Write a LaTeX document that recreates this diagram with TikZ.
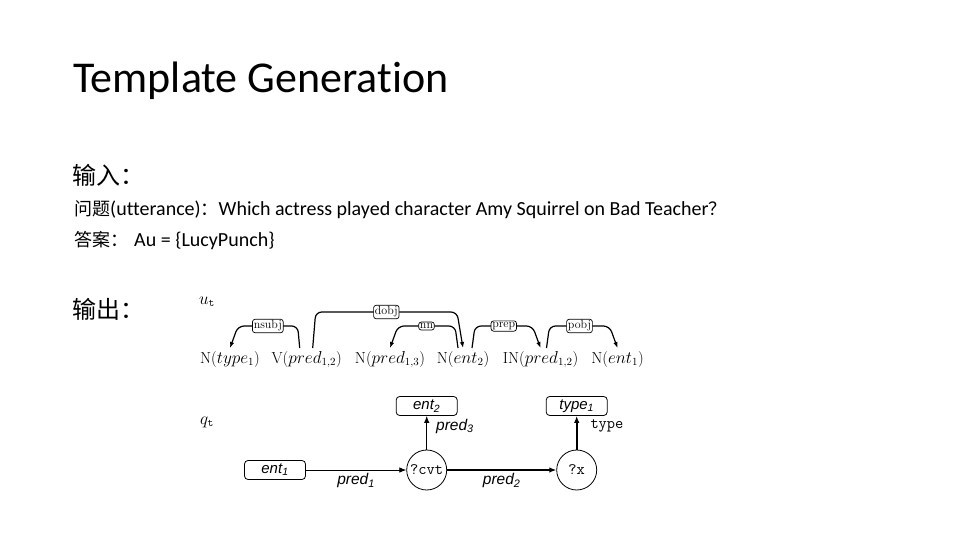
\documentclass[tikz,border=0pt]{standalone}
\usepackage{fontspec}
\usepackage{amsmath}
\usetikzlibrary{arrows.meta}
\newfontfamily\slidefont{Carlito}[Ligatures=NoCommon]
\newfontfamily\cjk{Noto Sans CJK SC}
\newfontfamily\arialfont{Liberation Sans}
\newcommand\zh[1]{{\cjk\fontsize{18}{22}\selectfont #1}}

\tikzset{
  token/.style={inner sep=0pt, outer sep=3pt, anchor=base, font=\fontsize{16}{18}\selectfont},
  deparc/.style={-{Latex[length=6pt,width=4.5pt]}, line width=1.2pt, rounded corners=6pt},
  deplabel/.style={draw, line width=0.7pt, rounded corners=2.5pt, fill=white, inner sep=1.3pt, font=\fontsize{12}{13}\selectfont},
  entbox/.style={draw, line width=0.8pt, rounded corners=3.5pt, minimum width=61pt, minimum height=19pt, inner sep=1pt, font=\arialfont\itshape\fontsize{15}{16}\selectfont},
  varnode/.style={draw, line width=0.8pt, circle, minimum size=40pt, inner sep=0pt, font=\ttfamily\fontsize{16}{18}\selectfont},
  qedge/.style={-{Latex[length=7pt,width=5.5pt]}, line width=1pt},
  qlabel/.style={font=\arialfont\itshape\fontsize{15.5}{17}\selectfont, inner sep=1pt},
  slidetext/.style={anchor=base west, inner sep=0pt},
}

\begin{document}
\begin{tikzpicture}[x=1pt,y=-1pt]
  \useasboundingbox (0,0) rectangle (960,540);
  % slide text
  \node[slidetext, font=\slidefont\fontsize{44}{52}\selectfont] (title) at (73,93) {Template Generation};
  \node[slidetext, font=\cjk\fontsize{24}{28}\selectfont] (inlabel) at (72,184) {输入：};
  \node[slidetext, font=\slidefont\fontsize{20}{24}\selectfont] (question) at (74,215)
    {\zh{问题}(utterance)\zh{：}Which actress played character Amy Squirrel on Bad Teacher\zh{？}};
  \node[slidetext, font=\slidefont\fontsize{20}{24}\selectfont] (answer) at (74,246)
    {\zh{答案：}\hspace{6pt}Au = \{LucyPunch\}};
  \node[slidetext, font=\cjk\fontsize{24}{28}\selectfont] (outlabel) at (72,318) {输出：};

  % dependency template u_t
  \node[font=\fontsize{16}{18}\selectfont] (ulabel) at (207,302) {$u_{\mathtt{t}}$};
  \node[token] (ntype) at (230,363) {N($type_1$)};
  \node[token] (vpred) at (306.7,363) {V($pred_{1,2}$)};
  \node[token] (npred) at (390,363) {N($pred_{1,3}$)};
  \node[token] (nent2) at (463,363) {N($ent_2$)};
  \node[token] (inpred) at (540.5,363) {IN($pred_{1,2}$)};
  \node[token] (nent1) at (617.5,363) {N($ent_1$)};

  \draw[deparc] ([xshift=-7pt]vpred.north) -- ([xshift=-9pt,yshift=22pt]vpred.north)
    -- node[deplabel] {nsubj} ([xshift=8pt,yshift=22pt]ntype.north) -- (ntype.north);
  \draw[deparc] ([xshift=6pt]vpred.north) -- ([xshift=9pt,yshift=36pt]vpred.north)
    -- node[deplabel] {dobj} ([xshift=-6pt,yshift=36pt]nent2.north) -- (nent2.north);
  \draw[deparc] ([xshift=-5pt]nent2.north) -- ([xshift=-8pt,yshift=22pt]nent2.north)
    -- node[deplabel] {nn} ([xshift=8pt,yshift=22pt]npred.north) -- (npred.north);
  \draw[deparc] ([xshift=9pt]nent2.north) -- ([xshift=12pt,yshift=22pt]nent2.north)
    -- node[deplabel] {prep} ([xshift=-8pt,yshift=22pt]inpred.north) -- (inpred.north);
  \draw[deparc] ([xshift=6pt]inpred.north) -- ([xshift=9pt,yshift=22pt]inpred.north)
    -- node[deplabel] {pobj} ([xshift=-8pt,yshift=22pt]nent1.north) -- (nent1.north);

  % query graph q_t
  \node[font=\fontsize{16}{18}\selectfont] (qlabel) at (207,422) {$q_{\mathtt{t}}$};
  \node[entbox] (ent1) at (275,470) {ent\textsubscript{1}};
  \node[varnode] (cvt) at (426.7,470) {?cvt};
  \node[varnode] (xvar) at (576.7,470) {?x};
  \node[entbox] (ent2) at (426.7,406) {ent\textsubscript{2}};
  \node[entbox] (type1) at (576.7,406) {type\textsubscript{1}};

  \draw[qedge, line width=0.8pt] (ent1) -- node[qlabel, below=2pt] {pred\textsubscript{1}} (cvt);
  \draw[qedge, line width=1.3pt] (cvt) -- node[qlabel, below=2pt] {pred\textsubscript{2}} (xvar);
  \draw[qedge] (cvt) -- node[qlabel, right=8pt, pos=0.7] {pred\textsubscript{3}} (ent2);
  \draw[qedge, line width=1.6pt] (xvar) -- node[right=12pt, pos=0.7, inner sep=1pt, font=\ttfamily\fontsize{16}{18}\selectfont] {type} (type1);
\end{tikzpicture}
\end{document}
